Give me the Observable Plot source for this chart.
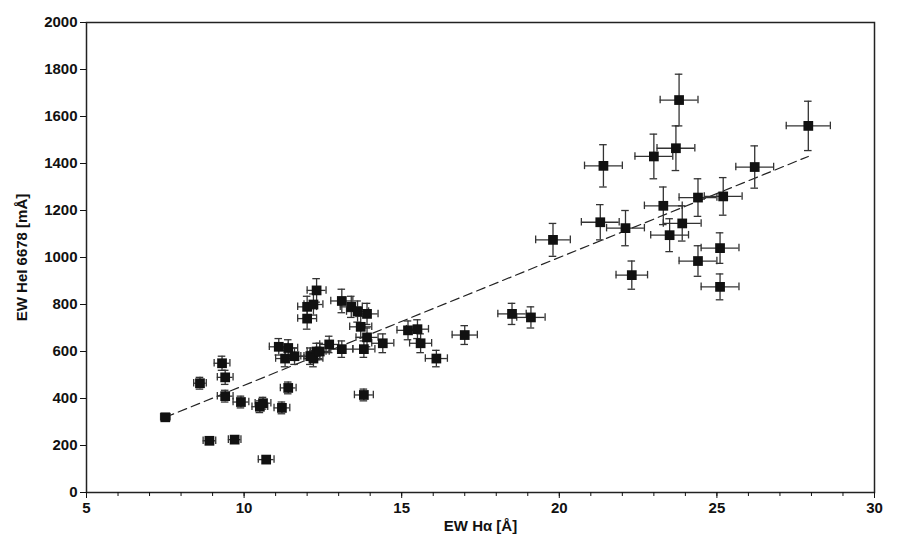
<!DOCTYPE html>
<html><head>
<script src="https://cdn.jsdelivr.net/npm/d3@7"></script>
<script src="https://cdn.jsdelivr.net/npm/@observablehq/plot@0.6"></script>
<style>body{margin:0;background:#fff;font-family:"Liberation Sans",Arial,sans-serif}</style>
</head><body><div id="chart"></div>
<script>
// EW Halpha vs EW HeI 6678
const ewHa = [7.5,8.6,8.9,9.3,9.4,9.4,9.7,9.9,10.5,10.6,10.7,11.1,11.2,11.3,11.4,11.4,11.6,12.0,12.0,12.2,12.3,12.1,12.3,12.2,12.4,12.7,13.1,13.1,13.4,13.6,13.7,13.9,13.8,13.9,13.8,14.4,15.2,15.5,15.6,16.1,17.0,18.5,19.1,19.8,21.3,21.4,22.1,22.3,23.0,23.3,23.5,23.7,23.8,23.9,24.4,24.4,25.1,25.1,25.2,26.2,27.9];
const ewHe = [320,465,220,550,490,410,225,385,365,380,140,620,360,570,615,445,580,740,790,800,860,580,600,570,600,630,815,610,790,770,705,760,610,660,415,635,690,695,635,570,670,760,745,1075,1150,1390,1125,925,1430,1220,1095,1465,1670,1145,1255,985,1040,875,1260,1385,1560];
const errHa = [0.15,0.2,0.2,0.25,0.25,0.25,0.2,0.25,0.25,0.25,0.25,0.3,0.25,0.3,0.3,0.25,0.3,0.3,0.3,0.3,0.3,0.3,0.3,0.3,0.3,0.3,0.35,0.35,0.35,0.35,0.35,0.35,0.35,0.35,0.3,0.35,0.35,0.35,0.35,0.35,0.4,0.45,0.45,0.55,0.6,0.6,0.6,0.5,0.6,0.6,0.6,0.6,0.6,0.6,0.6,0.6,0.6,0.6,0.6,0.6,0.7];
const errHe = [15,25,15,30,30,25,15,25,25,25,15,35,25,35,35,25,35,45,45,45,50,35,35,35,35,35,50,35,45,45,45,45,35,40,25,40,40,40,40,35,40,45,45,70,75,90,75,60,95,80,70,95,110,75,80,65,65,55,80,90,105];
const fitX = [7.5,27.9];
const fitY = [320,1430];
const xTicks = [5,10,15,20,25,30];
const xMinor = d3.range(5,31,1);
const yTicks = d3.range(0,2001,200);

const data = ewHa.map((x,i)=>({x, y: ewHe[i], ex: errHa[i], ey: errHe[i]}));
const fit = fitX.map((x,i)=>({x, y: fitY[i]}));
const capY = 16, capX = 0.12;
const bar = {stroke: "#333", strokeWidth: 1.3};

const chart = Plot.plot({
  width: 915, height: 558,
  marginLeft: 86, marginRight: 41, marginTop: 22, marginBottom: 66,
  style: {fontFamily: "Liberation Sans, Arial, sans-serif", fontSize: "15px", fontWeight: "bold", color: "#111"},
  x: {domain: [5,30]},
  y: {domain: [0,2000]},
  marks: [
    Plot.frame({stroke: "#222", strokeWidth: 1.5}),
    Plot.axisX(xMinor, {tickSize: 4, tickFormat: () => "", label: null}),
    Plot.axisX(xTicks, {tickSize: 6, tickPadding: 4, label: "EW Hα [Å]", labelAnchor: "center", labelArrow: "none", labelOffset: 38}),
    Plot.axisY(yTicks, {tickSize: 6, tickFormat: "d", label: "EW HeI 6678 [mÅ]", labelAnchor: "center", labelArrow: "none", labelOffset: 70}),
    Plot.line(fit, {x: "x", y: "y", stroke: "#222", strokeDasharray: "9,5", strokeWidth: 1.2}),
    Plot.ruleY(data, {y: "y", x1: d=>d.x-d.ex, x2: d=>d.x+d.ex, ...bar}),
    Plot.ruleX(data, {x: "x", y1: d=>d.y-d.ey, y2: d=>d.y+d.ey, ...bar}),
    Plot.ruleX(data, {x: d=>d.x-d.ex, y1: d=>d.y-capY, y2: d=>d.y+capY, ...bar}),
    Plot.ruleX(data, {x: d=>d.x+d.ex, y1: d=>d.y-capY, y2: d=>d.y+capY, ...bar}),
    Plot.ruleY(data, {y: d=>d.y-d.ey, x1: d=>d.x-capX, x2: d=>d.x+capX, ...bar}),
    Plot.ruleY(data, {y: d=>d.y+d.ey, x1: d=>d.x-capX, x2: d=>d.x+capX, ...bar}),
    Plot.dot(data, {x: "x", y: "y", symbol: "square", r: 5.5, fill: "#111", stroke: "none"})
  ]
});
document.getElementById("chart").append(chart);
</script>
</body></html>
